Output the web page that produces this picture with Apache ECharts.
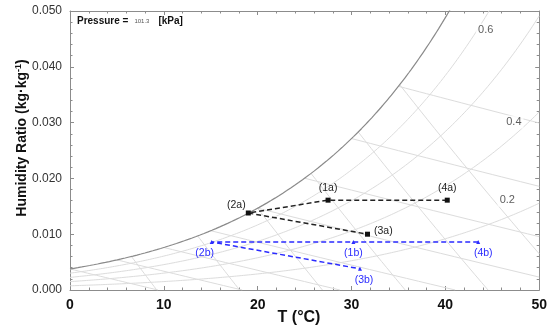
<!DOCTYPE html>
<html><head><meta charset="utf-8">
<script src="https://cdn.jsdelivr.net/npm/echarts@6/dist/echarts.min.js"></script>
<style>html,body{margin:0;padding:0;background:#fff}#c{width:550px;height:330px}</style>
</head><body><div id="c"></div>
<script>
// ---- chart values ----
const pressureKPa = 101.325;
const pressureLabel = '101.3';
const xTickValues = [0, 10, 20, 30, 40, 50];
const yTickValues = [0, 0.01, 0.02, 0.03, 0.04, 0.05];
const rhLevels = [0.2, 0.4, 0.6, 0.8];
const rhLabelText = ['0.2', '0.4', '0.6'];
const rhLabelT = [46.6, 47.3, 44.3];
const rhLabelW = [0.0161, 0.0301, 0.0466];
const wetBulbLevels = [0, 5, 10, 15, 20, 25, 30, 35];
const volumeLevels = [0.800, 0.825, 0.850, 0.875, 0.900, 0.925];

const pointsANames = ['(4a)', '(1a)', '(2a)', '(3a)'];
const pointsAT = [40.2, 27.5, 19.0, 31.7];
const pointsAW = [0.0161, 0.0161, 0.0138, 0.0100];
const pointsBNames = ['(4b)', '(1b)', '(2b)', '(3b)'];
const pointsBT = [43.5, 30.2, 15.1, 30.9];
const pointsBW = [0.0086, 0.0086, 0.0086, 0.0038];

// ---- label placement (style) ----
const labelPlaceA = [
  {position: 'top', offset: [0, 0]},
  {position: 'top', offset: [0, 0]},
  {position: 'top', offset: [-12, 4]},
  {position: 'right', offset: [0, -3]}
];
const labelPlaceB = [
  {position: 'bottom', offset: [5, 0]},
  {position: 'bottom', offset: [0, 0]},
  {position: 'bottom', offset: [-7, 0]},
  {position: 'bottom', offset: [4, 0]}
];

// ---- psychrometric relations for the background chart ----
const P = pressureKPa;
function pws(T) { return 0.61094 * Math.exp(17.625 * T / (T + 243.04)); }
function wFromPw(pw) { return 0.621945 * pw / (P - pw); }
function wSat(T) { return wFromPw(pws(T)); }
function wRH(T, phi) { return wFromPw(phi * pws(T)); }
function wWetBulb(T, twb) {
  return ((2501 - 2.326 * twb) * wSat(twb) - 1.006 * (T - twb)) / (2501 + 1.86 * T - 4.186 * twb);
}
function wVolume(T, v) { return (v * P / (0.287042 * (T + 273.15)) - 1) / 1.6078; }

function sampleCurve(fn, t0, t1, n) {
  const out = [];
  for (let i = 0; i <= n; i++) { const t = t0 + (t1 - t0) * i / n; out.push([t, fn(t)]); }
  return out;
}
function bisect(f, a, b) {
  let fa = f(a);
  for (let i = 0; i < 60; i++) {
    const m = (a + b) / 2, fm = f(m);
    if ((fm > 0) === (fa > 0)) { a = m; fa = fm; } else { b = m; }
  }
  return (a + b) / 2;
}

const gridColor = '#dcdcdc';
const series = [];
function addGridLine(data, color, width) {
  series.push({type: 'line', data: data, showSymbol: false, silent: true, smooth: false,
    lineStyle: {color: color, width: width}, z: 1, animation: false});
}
rhLevels.forEach(phi => addGridLine(sampleCurve(t => wRH(t, phi), 0, 50, 200), gridColor, 1));
wetBulbLevels.forEach(twb => {
  let tEnd = twb + (2501 - 2.326 * twb) * wSat(twb) / 1.006;
  tEnd = Math.min(tEnd, 50);
  addGridLine(sampleCurve(t => Math.max(0, wWetBulb(t, twb)), twb, tEnd, 20), gridColor, 1);
});
volumeLevels.forEach(v => {
  let tStart = bisect(t => wVolume(t, v) - wSat(t), -10, 60);
  tStart = Math.max(tStart, 0);
  let tEnd = Math.min(v * P / 0.287042 - 273.15, 50);
  addGridLine(sampleCurve(t => Math.max(0, wVolume(t, v)), tStart, tEnd, 20), gridColor, 1);
});
addGridLine(sampleCurve(wSat, 0, 42, 200), '#8a8a8a', 1.2);

function pointData(names, Ts, Ws, place, color) {
  return names.map((n, i) => ({
    name: n, value: [Ts[i], Ws[i]],
    label: {show: true, formatter: n, position: place[i].position, offset: place[i].offset,
      distance: 4, color: color, fontSize: 10.5, fontFamily: 'Liberation Sans'}
  }));
}
series.push({type: 'line', data: pointData(pointsANames, pointsAT, pointsAW, labelPlaceA, '#222'),
  symbol: 'rect', symbolSize: 5, showSymbol: true, z: 5, animation: false,
  itemStyle: {color: '#111'}, lineStyle: {color: '#222', width: 1.5, type: [5, 3]}});
series.push({type: 'line', data: pointData(pointsBNames, pointsBT, pointsBW, labelPlaceB, '#2b2bff'),
  symbol: 'triangle', symbolSize: 4, showSymbol: true, z: 5, animation: false,
  itemStyle: {color: '#2b2bff'}, lineStyle: {color: '#2b2bff', width: 1.5, type: [5, 3]}});
series.push({type: 'scatter', symbolSize: 0, z: 4, silent: true, animation: false,
  data: rhLabelText.map((t, i) => ({name: t, value: [rhLabelT[i], rhLabelW[i]]})),
  label: {show: true, position: 'inside', formatter: '{b}', color: '#333', fontSize: 11,
    fontFamily: 'Liberation Sans', backgroundColor: '#fff', padding: [1, 2]}});

const axisColor = '#8c8c8c';
const xMin = xTickValues[0], xMax = xTickValues[xTickValues.length - 1];
const yMin = yTickValues[0], yMax = yTickValues[yTickValues.length - 1];
const xInt = xTickValues[1] - xTickValues[0], yInt = yTickValues[1] - yTickValues[0];
function frameAxis(extra) {
  return Object.assign({
    type: 'value',
    axisLine: {show: true, onZero: false, lineStyle: {color: axisColor, width: 1}},
    axisTick: {show: true, inside: true, length: 4, lineStyle: {color: axisColor}},
    minorTick: {show: true, splitNumber: 5, length: 2.5, lineStyle: {color: axisColor}},
    splitLine: {show: false}
  }, extra);
}

const option = {
  backgroundColor: '#fff',
  animation: false,
  grid: {left: 70, right: 10, top: 11, bottom: 40, containLabel: false},
  xAxis: [
    frameAxis({min: xMin, max: xMax, interval: xInt, position: 'bottom',
      axisLabel: {show: true, margin: 8, color: '#111', fontSize: 14, fontWeight: 'bold', fontFamily: 'Liberation Sans'}}),
    frameAxis({min: xMin, max: xMax, interval: xInt, position: 'top', axisLabel: {show: false}})
  ],
  yAxis: [
    frameAxis({min: yMin, max: yMax, interval: yInt, position: 'left',
      axisLabel: {show: true, margin: 8, color: '#333', fontSize: 12, fontFamily: 'Liberation Sans',
        formatter: v => v.toFixed(3)}}),
    frameAxis({min: yMin, max: yMax, interval: yInt, position: 'right', axisLabel: {show: false}})
  ],
  series: series,
  graphic: [
    {type: 'text', left: 77, top: 16, style: {
      text: '{b|Pressure =}{s|' + pressureLabel + '}{b|[kPa]}',
      rich: {b: {fontSize: 10, fontWeight: 'bold', fill: '#111', fontFamily: 'Liberation Sans'},
             s: {fontSize: 6, fill: '#555', fontFamily: 'Liberation Sans', padding: [0, 9, 0, 6]}}}},
    {type: 'text', x: 299, y: 318, style: {text: 'T (°C)', fontSize: 16, fontWeight: 'bold',
      fill: '#111', fontFamily: 'Liberation Sans', align: 'center', verticalAlign: 'middle'}},
    {type: 'text', x: 22, y: 138, rotation: Math.PI / 2, style: {
      text: '{b|Humidity Ratio (kg·kg}{s|-1}{b|)}', align: 'center', verticalAlign: 'middle',
      rich: {b: {fontSize: 14, fontWeight: 'bold', fill: '#111', fontFamily: 'Liberation Sans'},
             s: {fontSize: 9, fontWeight: 'bold', fill: '#111', fontFamily: 'Liberation Sans', padding: [0, 0, 7, 0]}}}}
  ]
};
echarts.init(document.getElementById('c'), null, {renderer: 'canvas'}).setOption(option);
</script></body></html>
